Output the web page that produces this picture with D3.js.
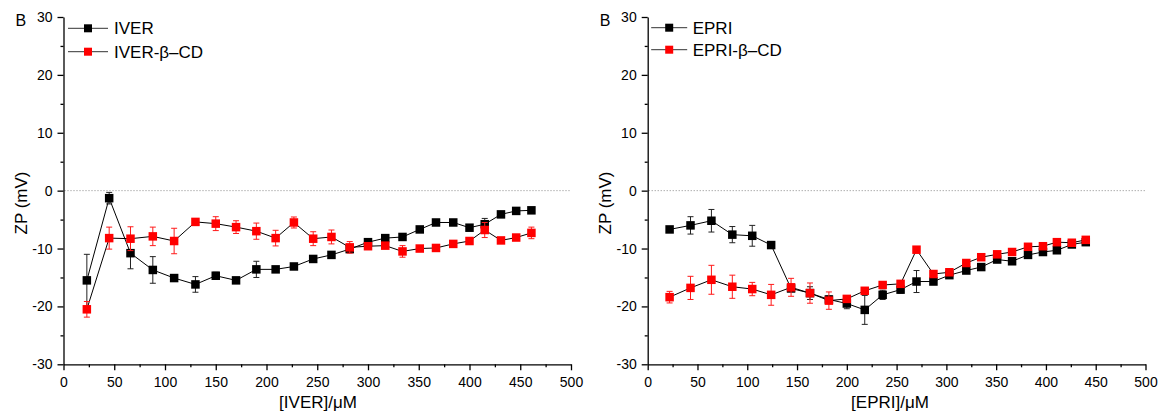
<!DOCTYPE html>
<html>
<head>
<meta charset="utf-8">
<script src="https://cdn.jsdelivr.net/npm/d3@7"></script>
<style>
  body { margin: 0; background: #fff; }
  text { font-family: "Liberation Sans", Arial, sans-serif; fill: #000; }
</style>
</head>
<body>
<svg width="1159" height="412"></svg>
<script>
// left panel: IVER
var iver_x = [23, 45, 66, 88, 109, 130, 150, 170, 190, 209, 227, 246, 264, 282, 300, 317, 334, 351, 367, 384, 400, 415, 431, 446, 461];
var iver_y = [-15.5, -1.3, -10.8, -13.7, -15.1, -16.2, -14.7, -15.5, -13.6, -13.6, -13.1, -11.8, -11.1, -10.1, -8.9, -8.2, -8.0, -6.7, -5.5, -5.5, -6.4, -5.8, -4.1, -3.5, -3.4];
var iver_err = [4.5, 1.0, 2.7, 2.3, 0.5, 1.35, 0.6, 0.3, 1.4, 0.3, 0.4, 0.5, 0.4, 0.4, 0.4, 0.4, 0.4, 0.4, 0.4, 0.4, 0.5, 1.0, 0.4, 0.3, 0.3];
var iver_cd_y = [-20.5, -8.2, -8.3, -7.9, -8.7, -5.4, -5.7, -6.3, -7.0, -8.2, -5.5, -8.3, -8.0, -9.8, -9.6, -9.5, -10.5, -10.0, -9.9, -9.2, -8.7, -6.8, -8.6, -8.1, -7.3];
var iver_cd_err = [1.35, 1.9, 2.06, 1.6, 2.2, 0.4, 1.2, 1.1, 1.4, 1.35, 0.95, 1.2, 1.2, 1.0, 0.5, 0.5, 1.0, 0.4, 0.4, 0.4, 0.4, 1.3, 0.5, 0.5, 1.0];

// right panel: EPRI
var epri_x = [22, 43, 64, 85, 105, 124, 144, 163, 182, 200, 218, 236, 254, 270, 287, 303, 320, 335, 351, 366, 382, 397, 411, 426, 440];
var epri_y = [-6.7, -6.0, -5.2, -7.6, -7.8, -9.4, -16.9, -17.7, -18.8, -19.5, -20.6, -18.0, -17.1, -15.7, -15.7, -14.6, -13.8, -13.2, -11.9, -12.2, -11.1, -10.6, -10.3, -9.3, -8.9];
var epri_err = [0.5, 1.5, 1.95, 1.4, 1.8, 0.3, 0.5, 1.1, 0.6, 0.9, 2.5, 0.8, 0.6, 1.9, 0.4, 0.3, 0.3, 0.3, 0.3, 0.3, 0.3, 0.3, 0.3, 0.3, 0.3];
var epri_cd_y = [-18.4, -16.8, -15.4, -16.6, -17.0, -18.0, -16.7, -17.7, -19.0, -18.7, -17.3, -16.3, -16.1, -10.2, -14.4, -14.1, -12.5, -11.5, -11.0, -10.6, -9.7, -9.6, -8.9, -9.0, -8.5];
var epri_cd_err = [1.0, 2.0, 2.5, 2.0, 1.15, 1.8, 1.55, 1.75, 1.5, 0.5, 0.3, 0.4, 0.4, 0.5, 0.3, 0.3, 0.3, 0.3, 0.3, 0.3, 0.3, 0.3, 0.3, 0.3, 0.3];

var x_ticks = [0, 50, 100, 150, 200, 250, 300, 350, 400, 450, 500];
var x_minor = [25, 75, 125, 175, 225, 275, 325, 375, 425, 475];
var y_ticks = [-30, -20, -10, 0, 10, 20, 30];
var y_minor = [-25, -15, -5, 5, 15, 25];

var svg = d3.select("svg");
var plot_top = 17, plot_bottom = 364.3;
var sq = 8.5;
var fmt = function (d) { return String(d); }; // plain hyphen minus, like the original

function rows(xs, ys, es) {
    return xs.map(function (d, i) { return { x: d, y: ys[i], e: es[i] }; });
}

function draw_panel(p) {
    var xscale = d3.scaleLinear().domain([0, 500]).range([p.left, p.right]);
    var yscale = d3.scaleLinear().domain([-30, 30]).range([plot_bottom, plot_top]);
    var g = svg.append("g");

    // zero line
    g.append("line")
        .attr("x1", xscale(0) + 1).attr("x2", xscale(500))
        .attr("y1", yscale(0)).attr("y2", yscale(0))
        .attr("stroke", "#888").attr("stroke-width", 1)
        .attr("stroke-dasharray", "1,2");

    // axes
    g.append("g").attr("transform", `translate(0, ${plot_bottom})`)
        .call(d3.axisBottom(xscale).tickValues(x_ticks).tickFormat(fmt).tickSize(6).tickPadding(7).tickSizeOuter(0));
    g.append("g").attr("transform", `translate(0, ${plot_bottom})`)
        .call(d3.axisBottom(xscale).tickValues(x_minor).tickSize(3).tickFormat("").tickSizeOuter(0))
        .select(".domain").remove();
    g.append("g").attr("transform", `translate(${p.left}, 0)`)
        .call(d3.axisLeft(yscale).tickValues(y_ticks).tickFormat(fmt).tickSize(6).tickPadding(5).tickSizeOuter(0));
    g.append("g").attr("transform", `translate(${p.left}, 0)`)
        .call(d3.axisLeft(yscale).tickValues(y_minor).tickSize(3).tickFormat("").tickSizeOuter(0))
        .select(".domain").remove();
    g.selectAll(".tick line, .domain").attr("stroke", "#000").attr("stroke-width", 1.3);
    g.selectAll(".tick text").attr("font-size", 14).attr("font-family", "Liberation Sans, Arial, sans-serif").attr("fill", "#000");

    var line = d3.line()
        .x(function (d) { return xscale(d.x); })
        .y(function (d) { return yscale(d.y); });

    p.series.forEach(function (s) {
        var data = rows(p.xs, s.ys, s.es);
        var sg = g.append("g");
        sg.append("path").datum(data).attr("d", line)
            .attr("fill", "none").attr("stroke", "#000").attr("stroke-width", 1);
        var eb = sg.selectAll(".eb").data(data).enter().append("g").attr("stroke", s.bar).attr("stroke-width", 1);
        eb.append("line")
            .attr("x1", function (d) { return xscale(d.x); })
            .attr("x2", function (d) { return xscale(d.x); })
            .attr("y1", function (d) { return yscale(d.y + d.e); })
            .attr("y2", function (d) { return yscale(d.y - d.e); });
        [1, -1].forEach(function (sgn) {
            eb.append("line")
                .attr("x1", function (d) { return xscale(d.x) - 3; })
                .attr("x2", function (d) { return xscale(d.x) + 3; })
                .attr("y1", function (d) { return yscale(d.y + sgn * d.e); })
                .attr("y2", function (d) { return yscale(d.y + sgn * d.e); });
        });
        sg.selectAll("rect").data(data).enter().append("rect")
            .attr("x", function (d) { return xscale(d.x) - sq / 2; })
            .attr("y", function (d) { return yscale(d.y) - sq / 2; })
            .attr("width", sq).attr("height", sq)
            .attr("fill", s.color);
    });

    // legend
    p.series.forEach(function (s, i) {
        var ly = p.leg_y[i];
        g.append("line")
            .attr("x1", p.left + p.leg_x1).attr("x2", p.left + p.leg_x2)
            .attr("y1", ly).attr("y2", ly)
            .attr("stroke", "#333").attr("stroke-width", 1);
        var cx = p.left + (p.leg_x1 + p.leg_x2) / 2;
        g.append("rect").attr("x", cx - 4).attr("y", ly - 4)
            .attr("width", 8).attr("height", 8).attr("fill", s.color);
        g.append("text").attr("x", p.left + p.leg_text).attr("y", ly + 6)
            .attr("font-size", 17).text(s.name);
    });

    // labels
    g.append("text").attr("x", p.left - 48).attr("y", 26).attr("font-size", 16).text("B");
    g.append("text")
        .attr("transform", `translate(${p.left - 37}, 203) rotate(-90)`)
        .attr("text-anchor", "middle").attr("font-size", 17).text("ZP (mV)");
    g.append("text").attr("x", p.xlab_cx).attr("y", 408)
        .attr("text-anchor", "middle").attr("font-size", 17).text(p.xlab);
}

draw_panel({
    left: 63.5, right: 571,
    xs: iver_x,
    series: [
        { name: "IVER", ys: iver_y, es: iver_err, color: "#000", bar: "#222" },
        { name: "IVER-\u03b2\u2013CD", ys: iver_cd_y, es: iver_cd_err, color: "#ff0000", bar: "#ff1a1a" }
    ],
    leg_y: [28.3, 51.7], leg_x1: 4.5, leg_x2: 44.5, leg_text: 50.5,
    xlab: "[IVER]/\u03bcM", xlab_cx: 318
});

draw_panel({
    left: 647.7, right: 1145.5,
    xs: epri_x,
    series: [
        { name: "EPRI", ys: epri_y, es: epri_err, color: "#000", bar: "#222" },
        { name: "EPRI-\u03b2\u2013CD", ys: epri_cd_y, es: epri_cd_err, color: "#ff0000", bar: "#ff1a1a" }
    ],
    leg_y: [27.7, 49.7], leg_x1: 3.5, leg_x2: 39.5, leg_text: 45,
    xlab: "[EPRI]/\u03bcM", xlab_cx: 890
});
</script>
</body>
</html>
